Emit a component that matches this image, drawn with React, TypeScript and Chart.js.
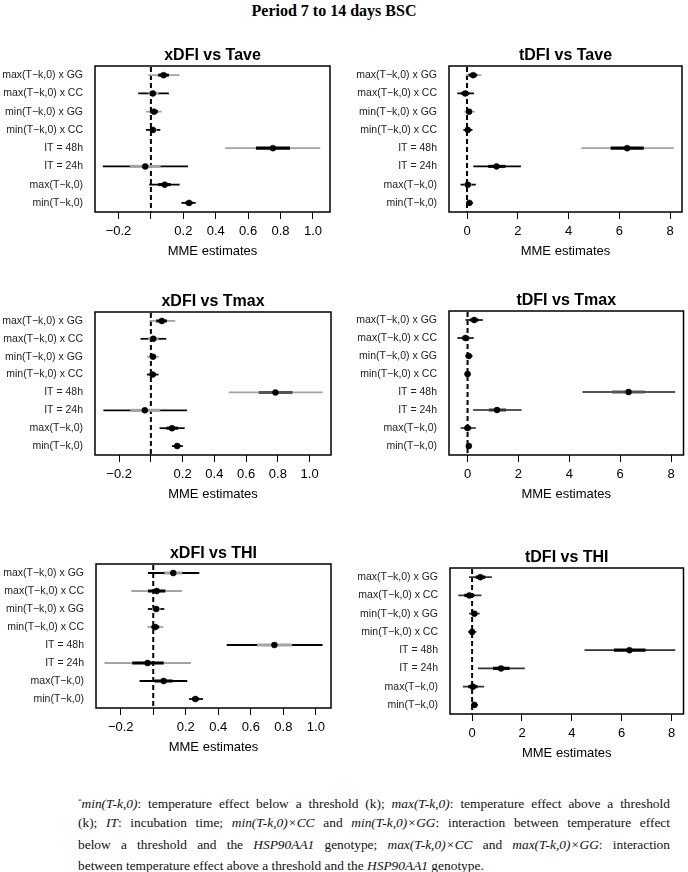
import React, { useEffect, useRef } from "react";
import { Chart, registerables } from "chart.js";

Chart.register(...registerables);
Chart.defaults.font.family = "'Liberation Sans', Arial, Helvetica, sans-serif";

// ---------- data ----------
const rowLabels = [
  "max(T\u2212k,0) x GG",
  "max(T\u2212k,0) x CC",
  "min(T\u2212k,0) x GG",
  "min(T\u2212k,0) x CC",
  "IT = 48h",
  "IT = 24h",
  "max(T\u2212k,0)",
  "min(T\u2212k,0)",
];

const xdfiTicks = [-0.2, 0, 0.2, 0.4, 0.6, 0.8, 1.0];
const xdfiTickLabels = ["\u22120.2", "", "0.2", "0.4", "0.6", "0.8", "1.0"];
const tdfiTicks = [0, 2, 4, 6, 8];
const tdfiTickLabels = ["0", "2", "4", "6", "8"];

// xDFI vs Tave
const xTaveEst = [0.078, 0.012, 0.019, 0.012, 0.753, -0.035, 0.085, 0.235];
const xTaveLo95 = [-0.014, -0.076, -0.029, -0.029, 0.46, -0.295, -0.008, 0.19];
const xTaveHi95 = [0.175, 0.109, 0.064, 0.056, 1.043, 0.227, 0.175, 0.274];
const xTaveLo50 = [0.047, -0.014, -0.004, -0.006, 0.65, -0.128, 0.047, 0.215];
const xTaveHi50 = [0.109, 0.047, 0.041, 0.035, 0.856, 0.058, 0.12, 0.255];

// tDFI vs Tave
const tTaveEst = [0.24, -0.07, 0.08, 0.03, 6.31, 1.16, 0.03, 0.09];
const tTaveLo95 = [-0.04, -0.37, -0.09, -0.13, 4.52, 0.26, -0.24, -0.01];
const tTaveHi95 = [0.55, 0.26, 0.29, 0.2, 8.13, 2.11, 0.33, 0.22];
const tTaveLo50 = [0.07, -0.22, -0.02, -0.05, 5.67, 0.85, -0.1, 0.03];
const tTaveHi50 = [0.39, 0.08, 0.16, 0.11, 6.95, 1.5, 0.17, 0.15];

// xDFI vs Tmax
const xTmaxEst = [0.069, 0.015, 0.013, 0.011, 0.785, -0.038, 0.133, 0.166];
const xTmaxLo95 = [-0.006, -0.063, -0.023, -0.023, 0.493, -0.297, 0.057, 0.135];
const xTmaxHi95 = [0.152, 0.095, 0.048, 0.046, 1.08, 0.225, 0.211, 0.2];
const xTmaxLo50 = [0.036, -0.016, -0.004, -0.006, 0.682, -0.128, 0.1, 0.152];
const xTmaxHi50 = [0.099, 0.047, 0.03, 0.028, 0.891, 0.057, 0.17, 0.182];

// tDFI vs Tmax
const tTmaxEst = [0.26, -0.08, 0.05, 0.0, 6.33, 1.16, 0.0, 0.05];
const tTmaxLo95 = [-0.07, -0.39, -0.08, -0.1, 4.53, 0.23, -0.26, -0.04];
const tTmaxHi95 = [0.59, 0.23, 0.18, 0.1, 8.15, 2.11, 0.31, 0.14];
const tTmaxLo50 = [0.1, -0.22, -0.01, -0.05, 5.7, 0.85, -0.12, 0.0];
const tTmaxHi50 = [0.42, 0.07, 0.11, 0.05, 6.95, 1.5, 0.13, 0.1];

// xDFI vs THI
const xThiEst = [0.123, 0.021, 0.018, 0.012, 0.745, -0.035, 0.064, 0.259];
const xThiLo95 = [-0.031, -0.133, -0.031, -0.035, 0.454, -0.298, -0.082, 0.222];
const xThiHi95 = [0.281, 0.175, 0.066, 0.06, 1.039, 0.23, 0.207, 0.304];
const xThiLo50 = [0.07, -0.03, -0.005, -0.01, 0.64, -0.127, 0.01, 0.24];
const xThiHi50 = [0.176, 0.072, 0.042, 0.035, 0.852, 0.062, 0.118, 0.28];

// tDFI vs THI
const tThiEst = [0.33, -0.11, 0.09, 0.0, 6.31, 1.16, 0.03, 0.09];
const tThiLo95 = [-0.11, -0.54, -0.11, -0.15, 4.52, 0.25, -0.36, -0.02];
const tThiHi95 = [0.78, 0.36, 0.29, 0.16, 8.13, 2.1, 0.47, 0.22];
const tThiLo50 = [0.15, -0.3, 0.0, -0.07, 5.7, 0.85, -0.14, 0.03];
const tThiHi50 = [0.52, 0.08, 0.19, 0.08, 6.94, 1.49, 0.2, 0.15];

// ---------- styles ----------
const G = "#a3a3a3";
const K = "#000000";
const D = "#555555";
const M = "#333333";

type Box = { left: number; right: number; top: number; bottom: number };
type PanelSpec = {
  title: string;
  est: number[];
  lo95: number[];
  hi95: number[];
  lo50: number[];
  hi50: number[];
  ticks: number[];
  tickLabels: string[];
  xMin: number;
  xMax: number;
  box: Box;
  outer: string[];
  inner: string[];
};

const panels: PanelSpec[] = [
  {
    title: "xDFI vs Tave",
    est: xTaveEst, lo95: xTaveLo95, hi95: xTaveHi95, lo50: xTaveLo50, hi50: xTaveHi50,
    ticks: xdfiTicks, tickLabels: xdfiTickLabels, xMin: -0.345, xMax: 1.105,
    box: { left: 95, right: 330, top: 66, bottom: 212 },
    outer: [G, K, G, K, G, K, K, K],
    inner: [K, G, K, G, K, G, K, K],
  },
  {
    title: "tDFI vs Tave",
    est: tTaveEst, lo95: tTaveLo95, hi95: tTaveHi95, lo50: tTaveLo50, hi50: tTaveHi50,
    ticks: tdfiTicks, tickLabels: tdfiTickLabels, xMin: -0.71, xMax: 8.47,
    box: { left: 449, right: 682, top: 66, bottom: 212 },
    outer: [G, K, G, K, G, K, K, K],
    inner: [K, K, K, K, K, K, G, K],
  },
  {
    title: "xDFI vs Tmax",
    est: xTmaxEst, lo95: xTmaxLo95, hi95: xTmaxHi95, lo50: xTmaxLo50, hi50: xTmaxHi50,
    ticks: xdfiTicks, tickLabels: xdfiTickLabels, xMin: -0.352, xMax: 1.135,
    box: { left: 95, right: 331, top: 312, bottom: 455 },
    outer: [G, K, G, K, G, K, K, K],
    inner: [K, G, K, K, D, G, K, K],
  },
  {
    title: "tDFI vs Tmax",
    est: tTmaxEst, lo95: tTmaxLo95, hi95: tTmaxHi95, lo50: tTmaxLo50, hi50: tTmaxHi50,
    ticks: tdfiTicks, tickLabels: tdfiTickLabels, xMin: -0.73, xMax: 8.49,
    box: { left: 449, right: 684, top: 311, bottom: 455 },
    outer: [M, M, M, M, D, D, D, M],
    inner: [K, M, M, M, D, M, M, K],
  },
  {
    title: "xDFI vs THI",
    est: xThiEst, lo95: xThiLo95, hi95: xThiHi95, lo50: xThiLo50, hi50: xThiHi50,
    ticks: xdfiTicks, tickLabels: xdfiTickLabels, xMin: -0.352, xMax: 1.093,
    box: { left: 96, right: 331, top: 564, bottom: 708 },
    outer: [K, G, K, G, K, G, K, K],
    inner: [G, K, G, K, G, K, K, K],
  },
  {
    title: "tDFI vs THI",
    est: tThiEst, lo95: tThiLo95, hi95: tThiHi95, lo50: tThiLo50, hi50: tThiHi50,
    ticks: tdfiTicks, tickLabels: tdfiTickLabels, xMin: -0.887, xMax: 8.477,
    box: { left: 450, right: 684, top: 568, bottom: 714 },
    outer: [M, M, M, M, M, M, M, M],
    inner: [K, K, K, K, K, K, K, K],
  },
];

const TITLE_H = 20; // 16px * 1.2 + 0.8 padding
const AXIS_H = 47;

const framePlugin = {
  id: "rframe",
  beforeDatasetsDraw(chart: any) {
    const { ctx, chartArea, scales } = chart;
    const px = scales.x.getPixelForValue(0);
    ctx.save();
    ctx.strokeStyle = "#000";
    ctx.lineWidth = 2;
    ctx.setLineDash([5, 3]);
    ctx.beginPath();
    ctx.moveTo(px, chartArea.top + 1);
    ctx.lineTo(px, chartArea.bottom);
    ctx.stroke();
    ctx.restore();
  },
  afterDraw(chart: any) {
    const { ctx, chartArea: a } = chart;
    ctx.save();
    ctx.strokeStyle = "#000";
    ctx.lineWidth = 1.5;
    ctx.strokeRect(a.left, a.top, a.right - a.left, a.bottom - a.top);
    ctx.restore();
  },
};

function Panel({ p }: { p: PanelSpec }) {
  const ref = useRef<HTMLCanvasElement | null>(null);
  const colLeft = p.box.left < 344 ? 0 : 344;
  const width = 344;
  const top = p.box.top - TITLE_H;
  const height = TITLE_H + (p.box.bottom - p.box.top) + AXIS_H;

  useEffect(() => {
    if (!ref.current) return;
    const chart = new Chart(ref.current, {
      type: "bar",
      data: {
        labels: rowLabels,
        datasets: [
          {
            type: "line",
            indexAxis: "y",
            data: p.est,
            showLine: false,
            pointRadius: 3,
            pointBackgroundColor: "#000",
            pointBorderColor: "#000",
            pointBorderWidth: 0.5,
            order: 1,
          } as any,
          {
            type: "bar",
            data: p.lo50.map((v, i) => [v, p.hi50[i]]),
            backgroundColor: p.inner,
            borderWidth: 0,
            barThickness: 2.4,
            grouped: false,
            order: 2,
          } as any,
          {
            type: "bar",
            data: p.lo95.map((v, i) => [v, p.hi95[i]]),
            backgroundColor: p.outer,
            borderWidth: 0,
            barThickness: 1.1,
            grouped: false,
            order: 3,
          } as any,
        ],
      },
      options: {
        indexAxis: "y",
        animation: false,
        responsive: false,
        maintainAspectRatio: false,
        events: [],
        layout: {
          padding: { left: 0, right: width - (p.box.right - colLeft), top: 0, bottom: 0 },
        },
        plugins: {
          legend: { display: false },
          tooltip: { enabled: false },
          title: {
            display: true,
            text: p.title,
            fullSize: false,
            color: "#000",
            font: { size: 16, weight: "bold", lineHeight: 1.2 },
            padding: { top: 0, bottom: 0.8 },
          },
        },
        scales: {
          x: {
            type: "linear",
            min: p.xMin,
            max: p.xMax,
            afterBuildTicks: (s: any) => {
              s.ticks = p.ticks.map((v) => ({ value: v }));
            },
            ticks: {
              autoSkip: false,
              maxRotation: 0,
              padding: 5,
              color: "#000",
              font: { size: 13 },
              callback: (_v: any, i: number) => p.tickLabels[i],
            },
            grid: {
              drawOnChartArea: false,
              drawTicks: true,
              tickLength: 7,
              color: "#000",
              lineWidth: 1,
            },
            border: { display: false },
            title: {
              display: true,
              text: "MME estimates",
              color: "#000",
              font: { size: 13, lineHeight: 1.2 },
              padding: 0,
            },
            afterFit: (s: any) => {
              s.height = AXIS_H;
            },
          },
          y: {
            type: "category",
            ticks: {
              autoSkip: false,
              padding: 12,
              color: "#222",
              font: { size: 10.5 },
            },
            grid: { display: false, drawTicks: false, tickLength: 0 },
            border: { display: false },
            afterFit: (s: any) => {
              s.width = p.box.left - colLeft;
            },
          },
        },
      } as any,
      plugins: [framePlugin],
    });
    return () => chart.destroy();
  }, []);

  return (
    <canvas
      ref={ref}
      width={width}
      height={height}
      style={{ position: "absolute", left: colLeft, top, width, height }}
    />
  );
}

const serif = "'Liberation Serif', 'Times New Roman', Times, serif";

export default function App() {
  const lineBase: React.CSSProperties = {
    height: 21.3,
    lineHeight: "21.3px",
    whiteSpace: "nowrap",
  };
  const just: React.CSSProperties = {
    ...lineBase,
    textAlign: "justify",
    textAlignLast: "justify" as any,
    whiteSpace: "normal",
  };
  return (
    <div
      style={{
        position: "absolute",
        left: 0,
        top: 0,
        width: 688,
        height: 872,
        background: "#fff",
        overflow: "hidden",
      }}
    >
      <div
        style={{
          position: "absolute",
          left: 0,
          top: 1,
          width: 668,
          textAlign: "center",
          fontFamily: serif,
          fontWeight: "bold",
          fontSize: 16,
          lineHeight: "20px",
          color: "#000",
        }}
      >
        Period 7 to 14 days BSC
      </div>
      {panels.map((p) => (
        <Panel key={p.title} p={p} />
      ))}
      <div
        style={{
          position: "absolute",
          left: 78,
          top: 791,
          width: 592,
          fontFamily: serif,
          fontSize: 13.4,
          color: "#111",
        }}
      >
        <div style={just}>
          <sup style={{ fontSize: 7 }}>*</sup>
          <i>min(T-k,0)</i>: temperature effect below a threshold (k); <i>max(T-k,0)</i>: temperature effect above a threshold
        </div>
        <div style={just}>
          (k); <i>IT</i>: incubation time; <i>min(T-k,0)×CC</i> and <i>min(T-k,0)×GG</i>: interaction between temperature effect
        </div>
        <div style={just}>
          below a threshold and the <i>HSP90AA1</i> genotype; <i>max(T-k,0)×CC</i> and <i>max(T-k,0)×GG</i>: interaction
        </div>
        <div style={lineBase}>
          between temperature effect above a threshold and the <i>HSP90AA1</i> genotype.
        </div>
      </div>
    </div>
  );
}
